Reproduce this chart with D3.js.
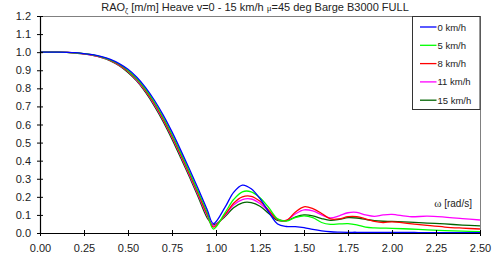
<!DOCTYPE html>
<html>
<head>
<meta charset="utf-8">
<script src="https://cdn.jsdelivr.net/npm/d3@7"></script>
<style>
  body { margin: 0; background: #fff; }
  svg { font-family: Arial, "Liberation Sans", sans-serif; }
</style>
</head>
<body>
<svg id="chart"></svg>
<script>
// frequency grid [rad/s]
const omega = [0, 0.1, 0.2, 0.25, 0.3, 0.35, 0.4, 0.45, 0.5, 0.55, 0.6, 0.65, 0.7, 0.75, 0.8, 0.85, 0.9, 0.95, 0.985,
  1.05, 1.1, 1.15, 1.2, 1.25, 1.3, 1.35, 1.4, 1.45, 1.5, 1.55, 1.6, 1.65, 1.7, 1.75, 1.8, 1.85, 1.9, 1.95, 2.0,
  2.1, 2.2, 2.3, 2.4, 2.5];

// RAO values
const rao0 = [1.0, 1.0, 0.997, 0.992, 0.986, 0.976, 0.96, 0.937, 0.905, 0.861, 0.804, 0.734, 0.652, 0.559, 0.457, 0.351, 0.242, 0.129, 0.052,
  0.14, 0.225, 0.265, 0.245, 0.19, 0.115, 0.05, 0.036, 0.035, 0.03, 0.02, 0.012, 0.007, 0.005, 0.004, 0.004, 0.003, 0.003, 0.003, 0.003,
  0.003, 0.002, 0.002, 0.002, 0.002];
const rao5 = [1.0, 1.0, 0.996, 0.992, 0.985, 0.974, 0.957, 0.933, 0.899, 0.853, 0.795, 0.723, 0.639, 0.545, 0.443, 0.336, 0.226, 0.113, 0.022,
  0.11, 0.185, 0.228, 0.228, 0.195, 0.14, 0.078, 0.066, 0.085, 0.095, 0.085, 0.058, 0.048, 0.05, 0.052, 0.045, 0.032, 0.028, 0.027, 0.026,
  0.022, 0.017, 0.013, 0.01, 0.008];
const rao8 = [1.0, 1.0, 0.996, 0.991, 0.984, 0.972, 0.955, 0.93, 0.895, 0.848, 0.788, 0.715, 0.63, 0.535, 0.432, 0.325, 0.215, 0.102, 0.033,
  0.1, 0.165, 0.2, 0.203, 0.175, 0.125, 0.075, 0.07, 0.115, 0.145, 0.135, 0.108, 0.078, 0.078, 0.09, 0.09, 0.078, 0.064, 0.058, 0.062,
  0.052, 0.042, 0.033, 0.027, 0.022];
const rao11 = [1.0, 1.0, 0.996, 0.991, 0.983, 0.971, 0.954, 0.928, 0.893, 0.845, 0.784, 0.71, 0.625, 0.529, 0.426, 0.318, 0.208, 0.095, 0.04,
  0.095, 0.155, 0.185, 0.188, 0.163, 0.118, 0.075, 0.07, 0.105, 0.128, 0.122, 0.1, 0.083, 0.095, 0.112, 0.114, 0.1, 0.092, 0.1, 0.103,
  0.09, 0.093, 0.088, 0.08, 0.072];
const rao15 = [1.0, 1.0, 0.995, 0.99, 0.982, 0.97, 0.952, 0.925, 0.888, 0.84, 0.777, 0.702, 0.616, 0.519, 0.415, 0.308, 0.197, 0.084, 0.045,
  0.09, 0.14, 0.167, 0.168, 0.148, 0.108, 0.07, 0.068, 0.088, 0.1, 0.095, 0.08, 0.07, 0.075, 0.085, 0.083, 0.075, 0.068, 0.065, 0.064,
  0.06, 0.055, 0.05, 0.044, 0.039];

const seriesNames = ['0 km/h', '5 km/h', '8 km/h', '11 km/h', '15 km/h'];
const seriesColors = ['#0000ff', '#00ff00', '#ff0000', '#ff00ff', '#006400'];
const seriesValues = [rao0, rao5, rao8, rao11, rao15];

const xTicks = [0, 0.25, 0.5, 0.75, 1.0, 1.25, 1.5, 1.75, 2.0, 2.25, 2.5];
const yTicks = [0, 0.1, 0.2, 0.3, 0.4, 0.5, 0.6, 0.7, 0.8, 0.9, 1.0, 1.1, 1.2];

const W = 493, H = 259;
const margin = { top: 16, right: 13, bottom: 26, left: 40 };
const width = W - margin.left - margin.right;
const height = H - margin.top - margin.bottom;

const svg = d3.select('#chart').attr('width', W).attr('height', H);

const x = d3.scaleLinear().domain([0, 2.5]).range([0, width]);
const y = d3.scaleLinear().domain([0, 1.2]).range([height, 0]);

const g = svg.append('g').attr('transform', `translate(${margin.left},${margin.top})`);

// grey frame top & right
g.append('line').attr('x1', 0).attr('x2', width).attr('y1', 0.5).attr('y2', 0.5).attr('stroke', '#808080');
g.append('line').attr('x1', width + 0.5).attr('x2', width + 0.5).attr('y1', 0).attr('y2', height).attr('stroke', '#808080');

g.append('clipPath').attr('id', 'clip').append('rect').attr('width', width).attr('height', height);

const line = d3.line().x(d => x(d[0])).y(d => y(d[1])).curve(d3.curveCatmullRom.alpha(0.5));
const plot = g.append('g').attr('clip-path', 'url(#clip)');
// draw from last to first so blue sits on top
for (let i = seriesValues.length - 1; i >= 0; i--) {
  const pts = omega.map((w, j) => [w, seriesValues[i][j]]);
  plot.append('path').datum(pts).attr('d', line)
    .attr('fill', 'none').attr('stroke', seriesColors[i]).attr('stroke-width', 1.3);
}

// axes
const xAxis = g.append('g').attr('transform', `translate(0,${height})`)
  .call(d3.axisBottom(x).tickValues(xTicks).tickFormat(d3.format('.2f')).tickSizeInner(3).tickSizeOuter(0).tickPadding(8));
xAxis.selectAll('.tick line').attr('y1', -3).attr('stroke', '#000');
xAxis.select('.domain').attr('stroke', '#000').attr('stroke-width', 1.2);
xAxis.selectAll('text').attr('font-size', 11).attr('fill', '#222').attr('font-family', 'Arial, "Liberation Sans", sans-serif');

const yAxis = g.append('g')
  .call(d3.axisLeft(y).tickValues(yTicks).tickFormat(d3.format('.1f')).tickSizeInner(3).tickSizeOuter(0).tickPadding(6));
yAxis.selectAll('.tick line').attr('x1', 3).attr('stroke', '#000');
yAxis.select('.domain').attr('stroke', '#000').attr('stroke-width', 1.2);
yAxis.selectAll('text').attr('font-size', 11).attr('fill', '#222').attr('font-family', 'Arial, "Liberation Sans", sans-serif');

// title
const title = svg.append('text').attr('x', 255).attr('y', 11).attr('text-anchor', 'middle')
  .attr('font-size', 11).attr('fill', '#222');
title.append('tspan').text('RAO');
title.append('tspan').attr('font-size', 7).attr('dy', 2).text('ζ');
title.append('tspan').attr('dy', -2).text(' [m/m] Heave v=0 - 15 km/h ');
title.append('tspan').attr('font-size', 9).attr('font-family', 'serif').text('μ');
title.append('tspan').text('=45 deg Barge B3000 FULL');

// x axis label
svg.append('text').attr('x', 472).attr('y', 207).attr('text-anchor', 'end')
  .attr('font-size', 10).attr('fill', '#222')
  .html('<tspan font-family="serif" font-size="11">ω</tspan> [rad/s]');

// legend
const lg = svg.append('g').attr('transform', 'translate(412.5,16.5)');
lg.append('rect').attr('width', 67.5).attr('height', 93).attr('fill', '#fff').attr('stroke', '#333');
seriesNames.forEach((name, i) => {
  const yy = 10.5 + i * 18.3;
  lg.append('line').attr('x1', 7.5).attr('x2', 24).attr('y1', yy).attr('y2', yy)
    .attr('stroke', seriesColors[i]).attr('stroke-width', 1.3);
  lg.append('text').attr('x', 25).attr('y', yy + 3.5).attr('font-size', 9.5).attr('fill', '#222').text(name);
});
</script>
</body>
</html>
